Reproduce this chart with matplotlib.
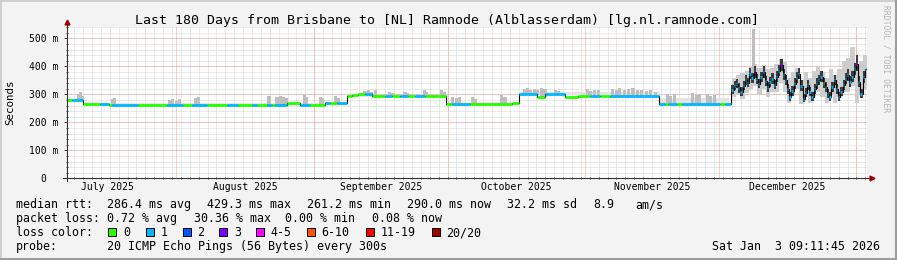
import numpy as np
import matplotlib
matplotlib.use("Agg")
import matplotlib.pyplot as plt
from matplotlib.patches import Rectangle
import pandas as pd

plt.rcParams['font.family'] = ['DejaVu Sans Mono']

# ---- data (days since start of the 180 day window) ----
start = pd.Timestamp('2025-07-07 09:11:45')

month_names = ['July 2025', 'August 2025', 'September 2025', 'October 2025',
               'November 2025', 'December 2025']
month_first = ['2025-07-01', '2025-08-01', '2025-09-01', '2025-10-01',
               '2025-11-01', '2025-12-01', '2026-01-01']

# median rtt (ms), step segments, with loss class (0 = green, 1 = cyan, ...)
med_day = [0, 1.1, 3.6, 7.4, 9.5, 10.1, 16.0, 22.5, 26.1, 28.1, 31.5, 36.0, 38.5,
           41.6, 42.8, 45.0, 46.1, 46.8, 49.5, 52.4, 54.7, 58.1, 59.2, 60.8, 63.0,
           64.1, 65.5, 67.1, 68.6, 71.6, 73.1, 74.9, 76.7, 78.3, 80.6, 85.2, 86.6,
           90.7, 100.1, 101.7, 105.8, 107.6, 112.1, 115.0, 117.7, 119.9, 122.2,
           133.2, 134.6, 135.2, 137.3, 138.4, 146.9, 148.1]
med_val = [280, 280, 266, 266, 263, 263, 263, 263, 263, 263, 263, 263, 263,
           263, 263, 263, 263, 263, 270, 263, 263, 268, 268, 268, 294,
           297, 300, 300, 294, 294, 294, 294, 294, 294, 294, 264, 264,
           264, 270, 300, 292, 300, 292, 294, 294, 294, 294,
           264, 264, 264, 264, 264, 264, 264]
med_loss = [0, 1, 0, 1, 0, 1, 0, 1, 0, 1, 0, 1, 0,
            1, 0, 1, 0, 1, 0, 1, 0, 1, 0, 1, 0,
            0, 0, 1, 0, 1, 0, 1, 0, 1, 0, 0, 1,
            0, 0, 1, 0, 1, 0, 0, 1, 0, 1,
            1, 0, 1, 0, 1, 0, 1]

# December: noisy period, twelve hour samples from day 149.5
dec_day = list(np.arange(149.5, 180, 0.5))
dec_med = [315, 330, 338, 322, 308, 330, 350, 342, 374, 360, 380, 355, 338, 362, 380,
           348, 326, 345, 356, 334, 362, 385, 404, 372, 350, 318, 291, 312, 338, 360,
           374, 330, 285, 305, 332, 310, 291, 318, 338, 350, 362, 340, 326, 300, 291,
           325, 350, 318, 291, 310, 332, 355, 368, 345, 362, 390, 410, 345, 302, 362,
           392]
dec_loss = [1, 1, 1, 1, 1, 1, 1, 1, 1, 1, 3, 1, 1, 1, 1,
            1, 1, 1, 1, 1, 1, 1, 3, 1, 1, 1, 1, 1, 1, 1,
            1, 1, 1, 1, 1, 1, 1, 1, 1, 1, 1, 0, 1, 1, 1,
            1, 1, 1, 1, 1, 1, 1, 1, 1, 1, 1, 4, 1, 1, 1,
            1]
dec_dlo = [300, 314, 322, 306, 294, 314, 332, 326, 354, 342, 360, 338, 322, 344, 360,
           330, 310, 328, 338, 318, 344, 365, 382, 352, 332, 302, 278, 296, 320, 342,
           354, 312, 272, 290, 314, 294, 278, 302, 320, 332, 344, 322, 310, 286, 278,
           308, 332, 302, 278, 294, 314, 336, 348, 328, 344, 368, 385, 326, 288, 342,
           370]
dec_dhi = [332, 348, 356, 340, 326, 348, 368, 360, 394, 378, 400, 374, 356, 380, 400,
           366, 344, 364, 376, 352, 382, 405, 425, 392, 370, 336, 310, 330, 358, 380,
           394, 350, 302, 324, 352, 328, 310, 338, 358, 370, 384, 360, 346, 318, 310,
           344, 370, 336, 310, 328, 352, 376, 390, 365, 384, 412, 440, 365, 320, 384,
           414]

# light smoke in December, daily
light_day = [149.6, 150.6, 151.5, 152.5, 153.4, 154.3, 155.3, 156.3, 157.2, 158.2,
             159.1, 160.1, 161.0, 162.0, 162.9, 163.9, 164.8, 165.8, 166.7, 167.6,
             168.6, 169.5, 170.5, 171.5, 172.4, 173.3, 174.3, 175.2, 176.2, 177.2,
             178.1, 179.0, 179.9]
light_lo = [290, 300, 285, 305, 320, 330, 300, 320, 290, 310, 310, 340, 310, 270,
            300, 320, 265, 290, 270, 295, 310, 290, 270, 300, 270, 290, 310, 310,
            330, 270, 300, 320, 300]
light_hi = [360, 370, 375, 385, 400, 410, 395, 405, 390, 395, 410, 425, 415, 360,
            380, 395, 350, 380, 360, 385, 400, 380, 360, 390, 370, 390, 420, 430,
            470, 400, 420, 440, 410]

# smoke: continuous light bands (start day, end day, top ms)
band_start = [0, 3.6, 63.0, 85.2, 101.7, 122.2, 133.2]
band_end = [3.6, 63.0, 85.2, 101.7, 122.2, 133.2, 149.0]
band_top = [284, 268, 299, 268, 308, 308, 288]

# smoke spikes (day, top ms)
spike_day = [2.3, 2.7, 3.1, 9.8, 10.4, 22.8, 23.4, 24.2, 24.9, 28.5, 29.3,
             45.1, 46.9, 47.6, 48.4, 49.1, 53.0, 53.6, 56.6, 57.2, 60.0, 60.8,
             66.7, 67.4, 68.2, 69.0, 72.3, 73.0, 75.7, 76.3, 80.0, 80.6, 84.0, 84.6,
             86.3, 87.2, 88.0, 90.8, 91.6, 97.5, 98.2,
             102.5, 103.2, 104.0, 104.8, 105.6, 106.4, 107.2, 109.5, 110.3,
             116.7, 117.5, 118.3, 119.2,
             122.3, 123.2, 124.0, 125.0, 126.0, 127.0, 128.0, 129.0, 130.0, 131.0, 132.0,
             134.7, 135.5, 136.3, 140.3, 141.2, 142.0, 143.7, 144.5, 145.3, 154.1]
spike_top = [300, 310, 296, 284, 287, 280, 283, 278, 282, 288, 291,
             296, 290, 296, 292, 288, 298, 290, 291, 286, 294, 288,
             312, 316, 308, 314, 310, 305, 310, 304, 316, 308, 316, 310,
             291, 286, 290, 290, 285, 298, 292,
             318, 322, 316, 320, 314, 322, 318, 316, 312,
             318, 312, 316, 314,
             320, 316, 322, 314, 318, 322, 316, 315, 312, 315, 310,
             300, 296, 300, 305, 298, 302, 300, 295, 298, 535]

loss_labels = ['0', '1', '2', '3', '4-5', '6-10', '11-19', '20/20']
loss_colors = ['#26ff00', '#00b8ff', '#0059ff', '#7e00ff', '#ff00ff',
               '#ff5500', '#ff0000', '#a10000']

# ---- figure ----
W, H = 897, 260
fig = plt.figure(figsize=(W / 100, H / 100), dpi=100, facecolor='#f3f3f3')


def fx(px):
    return px / W


def fy(py):
    return 1 - py / H


ax_left, ax_right, ax_top, ax_bot = 67, 867, 27, 178.3
ax = fig.add_axes([fx(ax_left), fy(ax_bot), fx(ax_right - ax_left), (ax_bot - ax_top) / H])
ax.set_facecolor('white')
ax.set_xlim(0, 180)
ax.set_ylim(0, 541)
for s in ax.spines.values():
    s.set_visible(False)

dot = (0, (1, 1))
# minor grid
midn = pd.date_range('2025-07-09', '2026-01-03', freq='2D')
minor_x = ((midn - start) / pd.Timedelta('1D')).values
ax.vlines(minor_x, 0, 541, colors='#d4d4d4', linestyles=[dot], lw=0.72, zorder=1)
ax.hlines(np.arange(20, 541, 20), 0, 180, colors='#d4d4d4', linestyles=[dot], lw=0.72, zorder=1)
# major grid
mf = pd.to_datetime(month_first)
month_x = ((mf - start) / pd.Timedelta('1D')).values
ax.vlines(month_x[1:], 0, 541, colors='#f2a0a0', linestyles=[dot], lw=0.72, zorder=1.5)
ax.hlines(np.arange(100, 541, 100), 0, 180, colors='#f2a0a0', linestyles=[dot], lw=0.72, zorder=1.5)

all_day = np.array(med_day + dec_day)
all_val = np.array(med_val + dec_med)


def base_at(d):
    i = np.searchsorted(all_day, d, side='right') - 1
    return all_val[max(i, 0)] - 3


# smoke
bs = np.array(band_start)
be = np.array(band_end)
bb = np.array([base_at(d) for d in bs])
ax.bar(bs, np.array(band_top) - bb, width=be - bs, bottom=bb, align='edge',
       color='#e4e4e4', lw=0, zorder=2)
sd = np.array(spike_day)
sb = np.array([base_at(d) for d in sd])
ax.bar(sd, np.array(spike_top) - sb, width=0.7, bottom=sb, align='edge',
       color='#bebebe', lw=0, zorder=2.1)
ax.fill_between(light_day, light_lo, light_hi, step='post', color='#cdcdcd', lw=0, zorder=2)
ax.fill_between(dec_day, dec_dlo, dec_dhi, step='post', color='#3c3c3c', lw=0, zorder=2.2)

# median
ax.step(list(all_day) + [180], list(all_val) + [all_val[-1]], where='post',
        color='black', lw=0.8, zorder=3)
seg_end = med_day[1:] + [dec_day[0]]
ax.hlines(med_val, med_day, seg_end, colors=[loss_colors[l] for l in med_loss],
          lw=2.0, zorder=4)
ax.hlines(dec_med, dec_day, [d + 0.3 for d in dec_day],
          colors=[loss_colors[l] for l in dec_loss], lw=2.0, zorder=4)

# ticks
mid_x = [(month_x[i] + month_x[i + 1]) / 2 for i in range(6)]
ax.set_xticks(mid_x)
ax.set_xticklabels(month_names)
ax.set_xticks(minor_x, minor=True)
ax.set_yticks(np.arange(0, 501, 100))
ax.set_yticklabels(['0  ', '100 m', '200 m', '300 m', '400 m', '500 m'])
ax.set_yticks(np.arange(0, 541, 20), minor=True)
ax.tick_params(axis='x', which='major', length=0, pad=3, labelsize=7)
ax.tick_params(axis='x', which='minor', length=2, width=0.7, color='#444444', direction='inout')
ax.tick_params(axis='y', which='major', length=2.5, width=0.7, color='#444444', pad=3.6, labelsize=7)
ax.tick_params(axis='y', which='minor', length=1.5, width=0.7, color='#444444', direction='inout')

# axes with arrows
ax.plot([-0.005, 1.005], [0, 0], transform=ax.transAxes, clip_on=False, color='#333333', lw=0.8, zorder=5)
ax.plot([0, 0], [-0.02, 1.025], transform=ax.transAxes, clip_on=False, color='#333333', lw=0.8, zorder=5)
ax.plot([1.006], [0], marker='>', ms=3.5, color='#a00000', transform=ax.transAxes, clip_on=False, zorder=6)
ax.plot([0], [1.03], marker='^', ms=3.5, color='#a00000', transform=ax.transAxes, clip_on=False, zorder=6)

# texts
fig.text(fx(446.5), fy(24), 'Last 180 Days from Brisbane to [NL] Ramnode (Alblasserdam) [lg.nl.ramnode.com]',
         ha='center', va='baseline', fontsize=9.5)
fig.text(fx(10), fy(102.5), 'Seconds', rotation=90, ha='center', va='center', fontsize=7.8)
fig.text(fx(886), fy(5), 'RRDTOOL / TOBI OETIKER', rotation=270, ha='center', va='top',
         fontsize=5.8, color='#b4b4b4')

lfs = 8.4
rows = [
    (208, [(16, 'median rtt:'), (107, '286.4 ms avg'), (207, '429.3 ms max'), (307, '261.2 ms min'),
           (407, '290.0 ms now'), (507, '32.2 ms sd'), (593, '8.9'), (635, 'am/s')]),
    (222, [(16, 'packet loss:'), (107, '0.72 % avg'), (194, '30.36 % max'), (285, '0.00 % min'),
           (372, '0.08 % now')]),
    (236, [(16, 'loss color:')]),
    (250, [(16, 'probe:'), (107, '20 ICMP Echo Pings (56 Bytes) every 300s')]),
]
for yb, items in rows:
    for xp, t in items:
        fig.text(fx(xp), fy(yb), t, ha='left', va='baseline', fontsize=lfs)

box_x = [108.3, 145.7, 182.7, 219.3, 256, 306.7, 366, 431.7]
for bx, lab, col in zip(box_x, loss_labels, loss_colors):
    fig.patches.append(Rectangle((fx(bx), fy(235.5)), 8 / W, 8 / H, transform=fig.transFigure,
                                 facecolor=col, edgecolor='black', lw=0.7))
    fig.text(fx(bx + 14.5), fy(236), lab, ha='left', va='baseline', fontsize=lfs)

fig.text(fx(880), fy(250), 'Sat Jan  3 09:11:45 2026', ha='right', va='baseline', fontsize=lfs)

# frame
fig.add_artist(plt.Line2D([0, 1], [fy(0.8), fy(0.8)], color='#cfcfcf', lw=1.5, transform=fig.transFigure))
fig.add_artist(plt.Line2D([fx(0.8), fx(0.8)], [0, 1], color='#cfcfcf', lw=1.5, transform=fig.transFigure))
fig.add_artist(plt.Line2D([0, 1], [fy(259.2), fy(259.2)], color='#9e9e9e', lw=1.5, transform=fig.transFigure))
fig.add_artist(plt.Line2D([fx(896.2), fx(896.2)], [0, 1], color='#9e9e9e', lw=1.5, transform=fig.transFigure))

fig.savefig('out.png', dpi=100, facecolor=fig.get_facecolor())
